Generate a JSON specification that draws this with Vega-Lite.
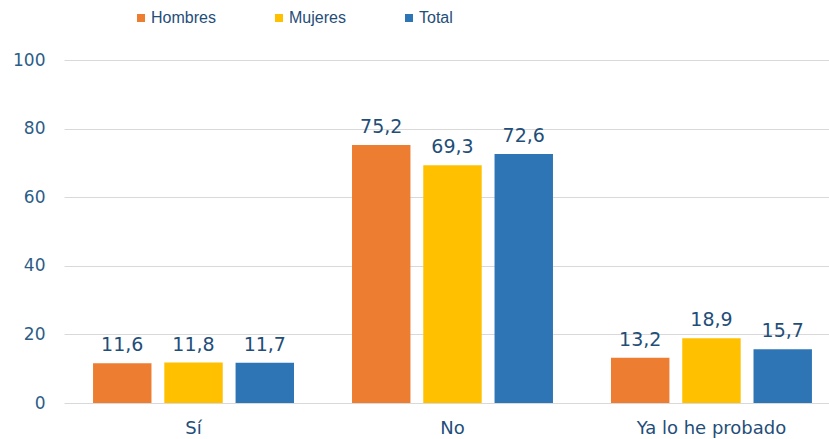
{
  "$schema": "https://vega.github.io/schema/vega-lite/v6.json",
  "autosize": "none",
  "width": 765,
  "height": 343,
  "padding": {"left": 64, "top": 60, "right": 0, "bottom": 36},
  "background": "white",
  "data": {"values": [
    {"respuesta": "Sí", "grupo": "Hombres", "valor": 11.6},
    {"respuesta": "Sí", "grupo": "Mujeres", "valor": 11.8},
    {"respuesta": "Sí", "grupo": "Total", "valor": 11.7},
    {"respuesta": "No", "grupo": "Hombres", "valor": 75.2},
    {"respuesta": "No", "grupo": "Mujeres", "valor": 69.3},
    {"respuesta": "No", "grupo": "Total", "valor": 72.6},
    {"respuesta": "Ya lo he probado", "grupo": "Hombres", "valor": 13.2},
    {"respuesta": "Ya lo he probado", "grupo": "Mujeres", "valor": 18.9},
    {"respuesta": "Ya lo he probado", "grupo": "Total", "valor": 15.7}
  ]},
  "encoding": {
    "x": {"field": "respuesta", "type": "nominal", "sort": ["Sí", "No", "Ya lo he probado"],
      "scale": {"paddingInner": 0.224, "paddingOuter": 0.089, "align": 0.63},
      "axis": {"title": null, "labelAngle": 0, "domain": false, "ticks": false, "labelPadding": 16,
        "labelFont": "DejaVu Sans", "labelFontSize": 18, "labelColor": "#1F4E79"}},
    "xOffset": {"field": "grupo", "type": "nominal", "sort": ["Hombres", "Mujeres", "Total"],
      "scale": {"paddingInner": 0.18, "paddingOuter": 0}},
    "y": {"field": "valor", "type": "quantitative",
      "scale": {"domain": [0, 100], "nice": false},
      "axis": {"title": null, "values": [0, 20, 40, 60, 80, 100], "domain": false, "ticks": false,
        "labelPadding": 19, "labelFont": "DejaVu Sans", "labelFontSize": 17, "labelColor": "#2B5D88",
        "grid": true, "gridColor": "#D9D9D9", "gridWidth": 1}}
  },
  "layer": [
    {
      "mark": {"type": "bar"},
      "encoding": {
        "color": {"field": "grupo", "type": "nominal", "sort": ["Hombres", "Mujeres", "Total"],
          "scale": {"domain": ["Hombres", "Mujeres", "Total"], "range": ["#ED7D31", "#FFC000", "#2E75B6"]},
          "legend": {"title": null, "orient": "none", "direction": "horizontal", "legendX": 69, "legendY": -50,
            "symbolType": "square", "symbolSize": 64, "symbolStrokeWidth": 0, "labelOffset": 2,
            "columnPadding": 55, "labelFont": "Liberation Sans", "labelFontSize": 16, "labelColor": "#1F4E79"}}
      }
    },
    {
      "mark": {"type": "text", "baseline": "bottom", "dy": -8, "font": "DejaVu Sans", "fontSize": 19, "color": "#1F4E79"},
      "encoding": {
        "text": {"field": "valor", "type": "quantitative", "format": ".1f"}
      }
    }
  ],
  "config": {
    "view": {"stroke": null},
    "locale": {"number": {"decimal": ",", "thousands": ".", "grouping": [3], "currency": ["", " €"]}}
  }
}
